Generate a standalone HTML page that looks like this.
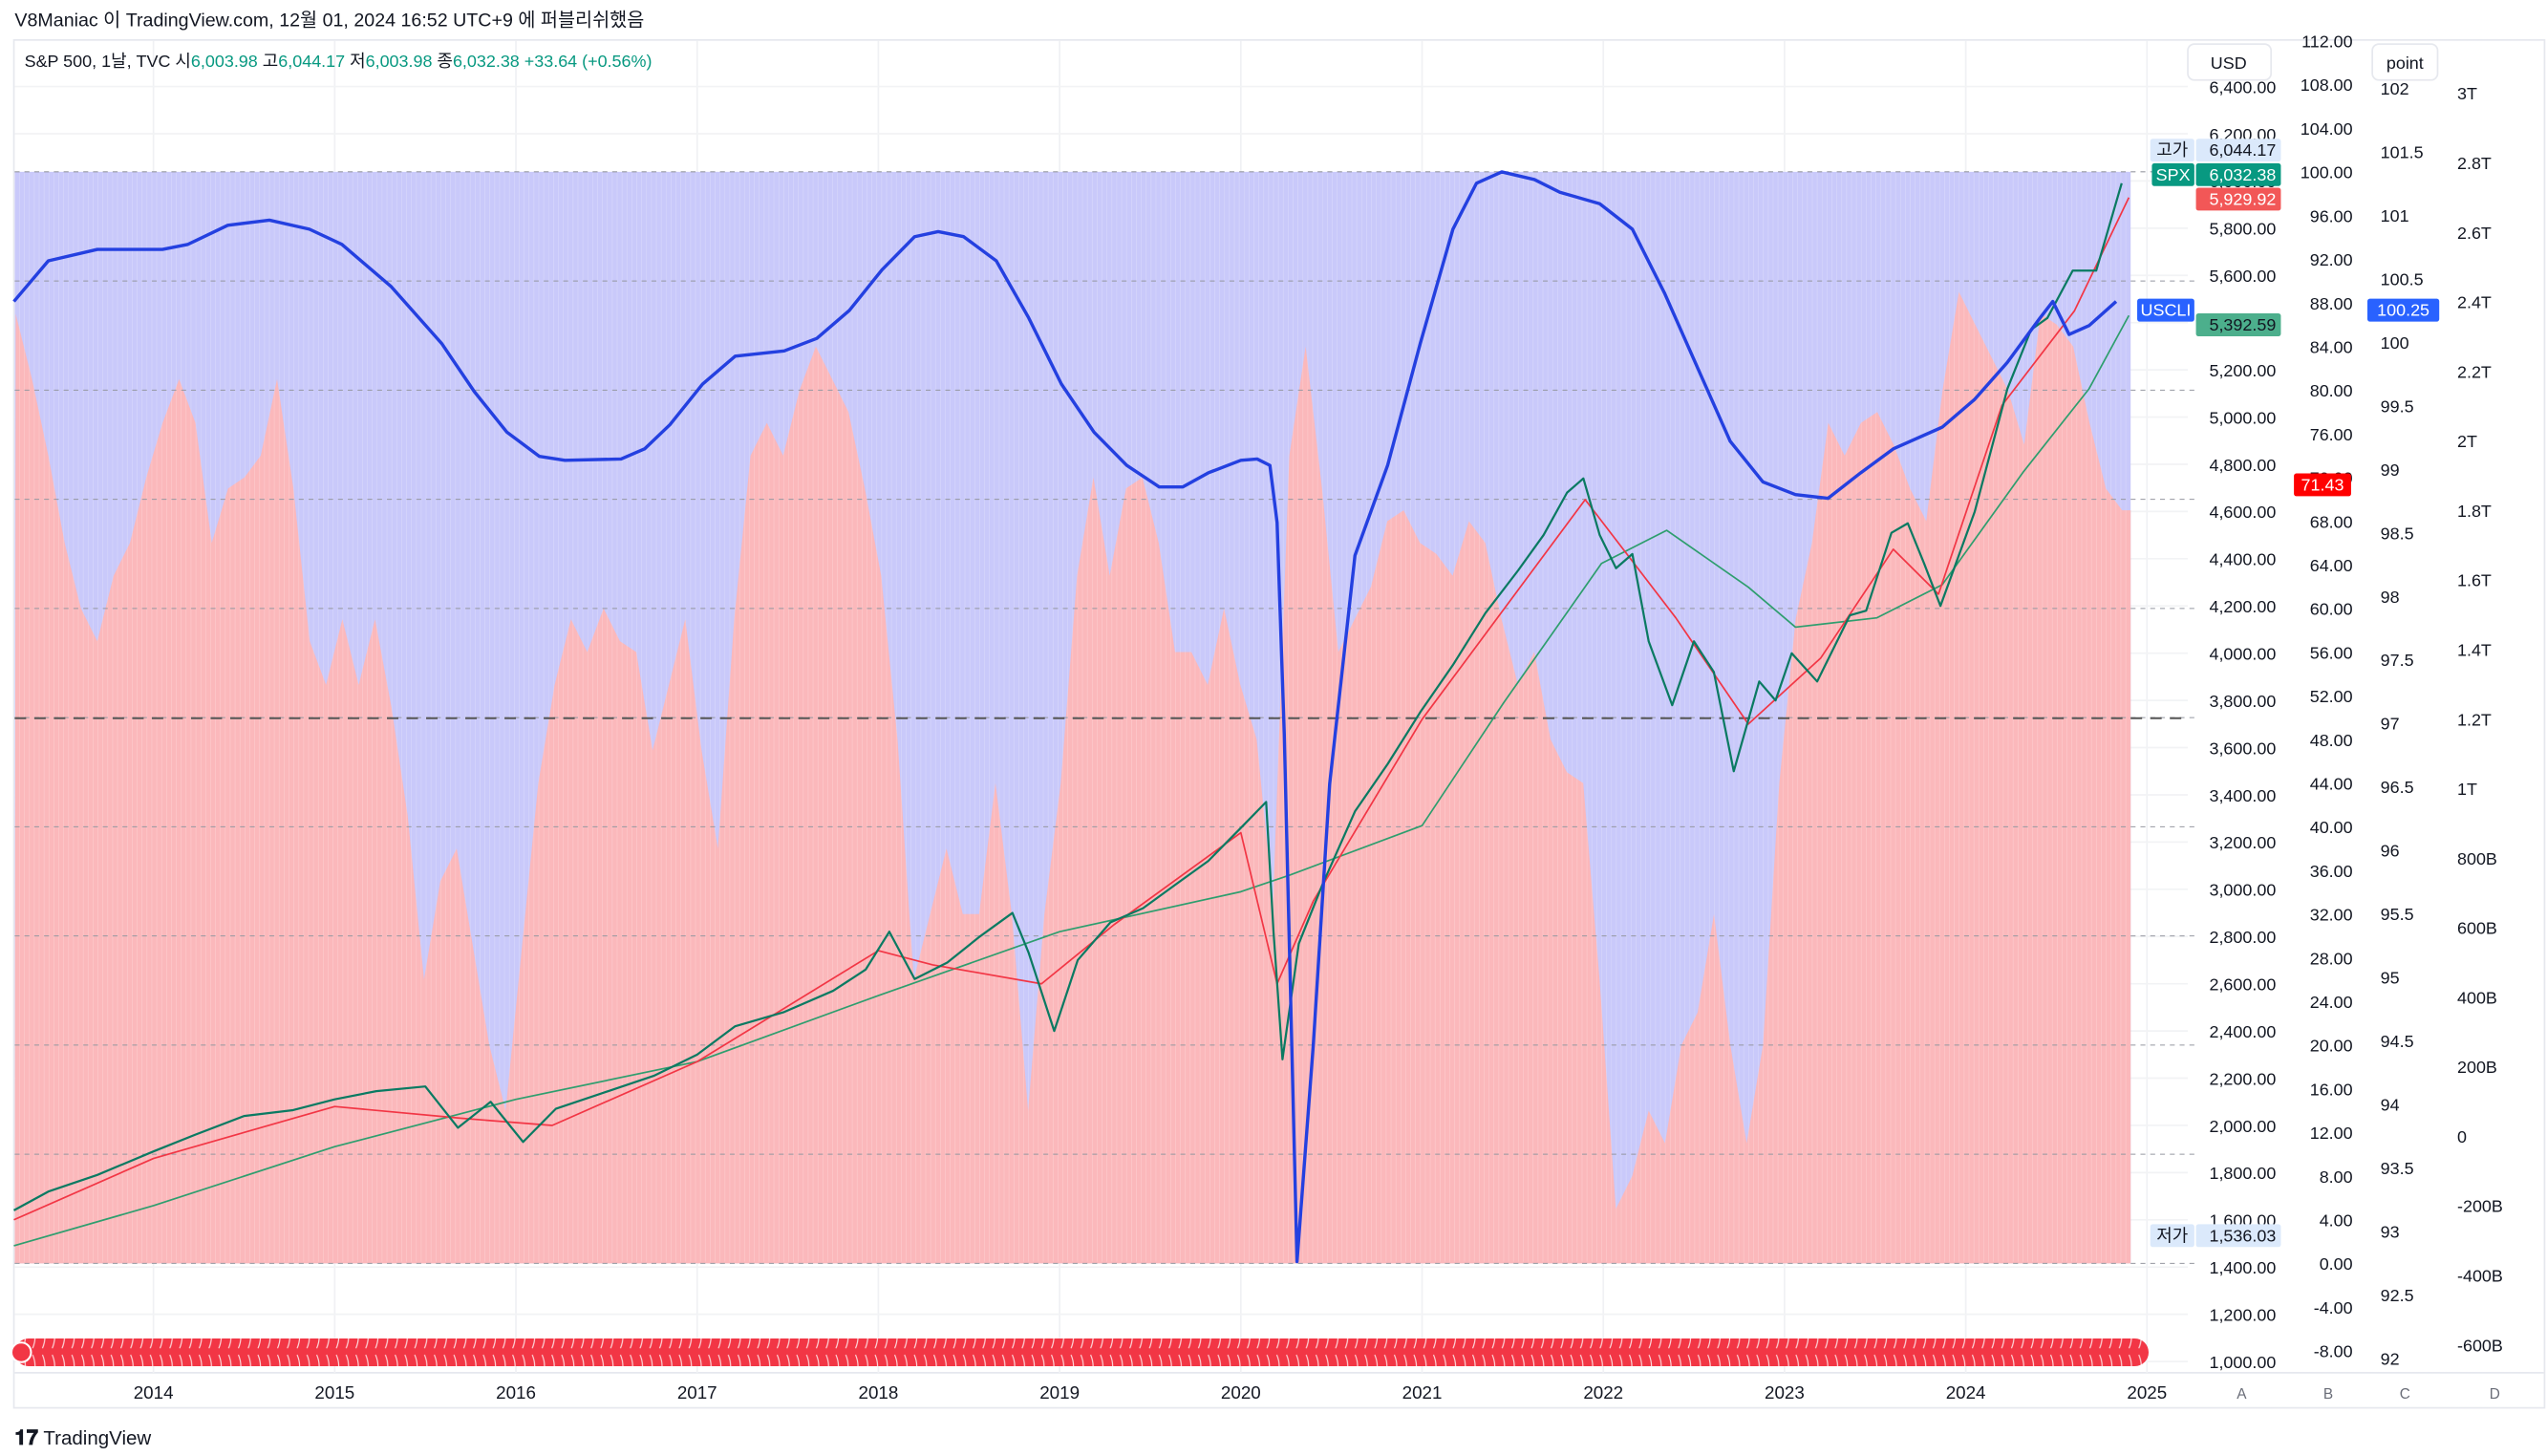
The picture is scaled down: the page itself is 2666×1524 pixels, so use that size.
<!DOCTYPE html>
<html><head><meta charset="utf-8"><style>
html,body{margin:0;padding:0;background:#fff;}
svg{display:block;font-family:"Liberation Sans","Noto Sans CJK KR",sans-serif;}
</style></head><body>
<svg id="chart" width="2666" height="1524" viewBox="0 0 1560 892" preserveAspectRatio="none" xmlns="http://www.w3.org/2000/svg">
<defs>
<pattern id="evt" width="6" height="18" patternUnits="userSpaceOnUse"><path d="M2 2 Q5 9 2 16" stroke="#fff" stroke-width="0.7" fill="none" opacity="0.8"/></pattern>
</defs>
<rect x="0" y="0" width="1560" height="892" fill="#fff"/>
<text x="9" y="16" font-size="11.5" fill="#131722">V8Maniac 이 TradingView.com, 12월 01, 2024 16:52 UTC+9 에 퍼블리쉬했음</text>
<rect x="8.5" y="24.5" width="1550" height="838" fill="none" stroke="#e6e8ee" stroke-width="1"/>
<line x1="9" y1="841" x2="1558" y2="841" stroke="#e6e8ee"/>
<g id="vgrid"></g>
<g id="plot"></g>
<g id="legend">
<text x="15" y="41" font-size="10.5" fill="#131722">S&amp;P 500, 1날, TVC <tspan>시</tspan><tspan fill="#089981">6,003.98</tspan>  고<tspan fill="#089981">6,044.17</tspan>  저<tspan fill="#089981">6,003.98</tspan>  종<tspan fill="#089981">6,032.38</tspan>  <tspan fill="#089981">+33.64 (+0.56%)</tspan></text>
</g>
<rect x="9" y="820" width="1307" height="17" rx="8.5" fill="#f23645"/>
<rect x="14" y="820" width="1300" height="17" fill="url(#evt)"/>
<circle cx="13" cy="828.5" r="6" fill="#f23645" stroke="#fff" stroke-width="1.2"/>
<g id="axes"></g>
<rect x="1340" y="27" width="51" height="22" rx="4" fill="#fff" stroke="#e6e8ee"/>
<text x="1365" y="42" font-size="10.5" text-anchor="middle" fill="#131722">USD</text>
<rect x="1453" y="27" width="40" height="22" rx="4" fill="#fff" stroke="#e6e8ee"/>
<text x="1473" y="42" font-size="10.5" text-anchor="middle" fill="#131722">point</text>
<g id="tags" font-size="10.5"></g>
<text x="9" y="885" font-size="12" fill="#131722"><tspan font-weight="bold" font-size="13">𝟏𝟕</tspan> TradingView</text>
</svg>
<script>
// ---- data ----
const yearTicks=[2014,2015,2016,2017,2018,2019,2020,2021,2022,2023,2024,2025];
const usdTicks=[6400,6200,6000,5800,5600,5400,5200,5000,4800,4600,4400,4200,4000,3800,3600,3400,3200,3000,2800,2600,2400,2200,2000,1800,1600,1400,1200,1000];
const oscTicks=[112,108,104,100,96,92,88,84,80,76,72,68,64,60,56,52,48,44,40,36,32,28,24,20,16,12,8,4,0,-4,-8];
const pointTicks=[102,101.5,101,100.5,100,99.5,99,98.5,98,97.5,97,96.5,96,95.5,95,94.5,94,93.5,93,92.5,92];
const tTicks=[3,2.8,2.6,2.4,2.2,2,1.8,1.6,1.4,1.2,1,0.8,0.6,0.4,0.2,0,-0.2,-0.4,-0.6];
const tLabels=["3T","2.8T","2.6T","2.4T","2.2T","2T","1.8T","1.6T","1.4T","1.2T","1T","800B","600B","400B","200B","0","-200B","-400B","-600B"];
const oscStart=2013.24, oscStep=0.0901;
const oscValues=[87,81,74,66,60,57,63,66,72,77,81,77,66,71,72,74,81,71,57,53,59,53,59,51,41,26,35,38,29,20,14,29,44,53,59,56,60,57,56,47,53,59,47,38,59,74,77,74,80,84,81,78,71,63,48,26,32,38,32,32,44,32,14,32,44,63,72,63,71,72,66,56,56,53,60,53,48,33,74,84,71,56,59,62,68,69,66,65,63,68,66,59,53,56,48,45,44,26,5,8,14,11,20,23,32,20,11,20,44,59,66,77,74,77,78,75,71,68,80,89,86,83,80,75,87,86,84,77,71,69];
const cliDates=[2013.23,2013.42,2013.69,2014.05,2014.19,2014.41,2014.64,2014.86,2015.04,2015.31,2015.59,2015.77,2015.95,2016.13,2016.27,2016.58,2016.71,2016.85,2017.03,2017.21,2017.48,2017.66,2017.84,2018.02,2018.2,2018.33,2018.47,2018.65,2018.83,2019.01,2019.19,2019.37,2019.55,2019.68,2019.82,2020.0,2020.09,2020.16,2020.2,2020.24,2020.31,2020.4,2020.49,2020.63,2020.81,2020.99,2021.17,2021.3,2021.44,2021.62,2021.76,2021.98,2022.16,2022.34,2022.52,2022.7,2022.88,2023.06,2023.24,2023.42,2023.6,2023.87,2024.05,2024.23,2024.41,2024.48,2024.57,2024.68,2024.83];
const cliValues=[100.32,100.64,100.73,100.73,100.77,100.92,100.96,100.89,100.77,100.44,99.99,99.61,99.29,99.1,99.07,99.08,99.16,99.35,99.67,99.89,99.93,100.03,100.25,100.57,100.83,100.87,100.83,100.64,100.19,99.67,99.29,99.03,98.86,98.86,98.97,99.07,99.08,99.03,98.58,96.91,92.76,94.47,96.52,98.32,99.03,99.99,100.89,101.25,101.34,101.28,101.18,101.09,100.89,100.38,99.8,99.22,98.9,98.8,98.77,98.97,99.16,99.33,99.55,99.84,100.19,100.32,100.06,100.13,100.32];
const spxDates=[2013.23,2013.42,2013.69,2014.0,2014.23,2014.5,2014.77,2015.0,2015.23,2015.5,2015.68,2015.86,2016.04,2016.22,2016.49,2016.76,2017.0,2017.21,2017.48,2017.75,2017.93,2018.06,2018.2,2018.38,2018.56,2018.74,2018.83,2018.97,2019.1,2019.28,2019.46,2019.64,2019.82,2020.0,2020.14,2020.18,2020.23,2020.32,2020.45,2020.63,2020.81,2020.99,2021.17,2021.35,2021.53,2021.67,2021.8,2021.89,2021.98,2022.07,2022.16,2022.25,2022.38,2022.5,2022.61,2022.72,2022.86,2022.95,2023.04,2023.18,2023.36,2023.45,2023.59,2023.68,2023.77,2023.86,2024.05,2024.23,2024.36,2024.45,2024.59,2024.72,2024.86];
const spxValues=[1640,1720,1790,1890,1960,2040,2065,2110,2145,2165,1990,2100,1930,2070,2140,2210,2300,2420,2480,2570,2660,2820,2620,2690,2800,2900,2730,2400,2700,2860,2920,3020,3120,3260,3370,2820,2280,2770,3020,3330,3530,3750,3950,4170,4350,4500,4680,4740,4500,4360,4420,4050,3780,4050,3920,3500,3880,3800,4000,3880,4160,4180,4510,4550,4380,4200,4600,5120,5370,5420,5620,5620,5990];
const maDates=[2013.23,2014.0,2015.0,2016.0,2017.0,2018.0,2019.0,2020.0,2020.27,2021.0,2021.45,2021.99,2022.35,2022.8,2023.06,2023.51,2023.87,2024.32,2024.68,2024.9];
const maValues=[1490,1660,1910,2110,2270,2550,2820,2990,3060,3270,3790,4380,4520,4280,4110,4150,4290,4770,5120,5430];
const redDates=[2013.23,2014.0,2015.0,2015.7,2016.2,2017.0,2018.0,2018.3,2018.9,2019.3,2020.0,2020.2,2020.4,2021.0,2021.9,2022.4,2022.8,2023.2,2023.6,2023.85,2024.2,2024.6,2024.9];
const redValues=[1600,1860,2080,2030,2000,2270,2740,2680,2600,2850,3240,2600,2950,3720,4650,4150,3700,3980,4440,4250,5050,5450,5930];
</script>
<script>
const NS="http://www.w3.org/2000/svg";
const L=9,R=1305,PT=106,PB=773;
const xOf=d=>94+(d-2014)*111;
const yUsd=p=>53+(6400-p)/200*28.93;
const yOsc=v=>25+(112-v)*26.75/4;
const yPt=v=>54+(102-v)*77.8;
const yT=v=>57+(3-v)*42.6/0.2;
function mk(tag,attrs,parent){const e=document.createElementNS(NS,tag);for(const k in attrs)e.setAttribute(k,attrs[k]);parent.appendChild(e);return e;}
const plot=document.getElementById('plot'),axes=document.getElementById('axes'),vg=document.getElementById('vgrid'),tags=document.getElementById('tags');
// vertical grid + x labels
yearTicks.forEach(y=>{
 const x=xOf(y);
 const g=mk('line',{x1:x,y1:25,x2:x,y2:841,stroke:'#f0f1f4','stroke-width':1},vg);
 
 
 const t=mk('text',{x:x,y:857,'font-size':11,'text-anchor':'middle',fill:'#131722'},axes);
 t.textContent=y;
 
 
});
["A","B","C","D"].forEach((s,i)=>{const t=mk('text',{x:[1373,1426,1473,1528][i],y:857,'font-size':9,'text-anchor':'middle',fill:'#6a6d78'},axes);t.textContent=s;
 
 });
// horizontal faint grid
usdTicks.forEach(p=>{mk('line',{x1:L,y1:yUsd(p),x2:1340,y2:yUsd(p),stroke:'#f2f3f5'},vg);});
// purple band
const band=mk('rect',{x:L,y:yOsc(100),width:R-L,height:yOsc(0)-yOsc(100),fill:'#c9c9fa'},plot);


// pink oscillator area
let d='M'+L+' '+yOsc(0);
oscValues.forEach((v,i)=>{const x=Math.min(R,Math.max(L,xOf(oscStart+i*oscStep)));d+=' L'+x.toFixed(1)+' '+yOsc(v).toFixed(1);});
d+=' L'+R+' '+yOsc(oscValues[oscValues.length-1]).toFixed(1)+' L'+R+' '+yOsc(0)+' Z';
const osc=mk('path',{d:d,fill:'#fbb8bb'},plot);


// stripes
for(let x=L;x<R;x+=3){mk('line',{x1:x,y1:PT,x2:x,y2:PB,stroke:'#ffffff','stroke-width':0.4,opacity:0.25},plot);}
// band dashed lines
[100,90,80,70,60,50,40,30,20,10,0].forEach(v=>{mk('line',{x1:L,y1:yOsc(v),x2:1345,y2:yOsc(v),stroke:'#9598a1','stroke-width':0.6,'stroke-dasharray':'3 3'},plot);});
const mid=mk('line',{x1:L,y1:440,x2:1340,y2:440,stroke:'#555','stroke-width':1.2,'stroke-dasharray':'7 5'},plot);


function line(dates,vals,yf,col,w,name){
 const p=mk('path',{d:dates.map((t,i)=>(i?'L':'M')+xOf(t).toFixed(1)+' '+yf(vals[i]).toFixed(1)).join(' '),fill:'none',stroke:col,'stroke-width':w,'stroke-linejoin':'round'},plot);
 
 
}
line(maDates,maValues,yUsd,'#2e9e6e',1,'spx-long-ma');
line(redDates,redValues,yUsd,'#f23645',1,'spx-short-ma');
line(spxDates,spxValues,yUsd,'#0a7a62',1.3,'spx-price');
line(cliDates,cliValues,yPt,'#2440e0',2,'uscli-line');
// axes labels
function col(ticks,labels,yf,x,anchor){ticks.forEach((v,i)=>{const t=mk('text',{x:x,y:yf(v)+4,'font-size':10.5,'text-anchor':anchor,fill:'#131722'},axes);t.textContent=labels[i];
 
 });}
col(usdTicks,usdTicks.map(p=>p.toLocaleString('en-US',{minimumFractionDigits:2})),yUsd,1394,'end');
col(oscTicks,oscTicks.map(v=>v.toFixed(2)),yOsc,1441,'end');
col(pointTicks,pointTicks.map(String),yPt,1458,'start');
col(tTicks,tLabels,yT,1505,'start');
// tags
function tag(x,y,w,bg,fg,txt,name,anchor){const r=mk('rect',{x:x,y:y,width:w,height:14,rx:1.5,fill:bg},tags);
 
 
 const t=mk('text',{x:anchor==='end'?x+w-3:x+w/2,y:y+10.5,'text-anchor':anchor||'middle',fill:fg},tags);t.textContent=txt;}
tag(1317,85,27,'#dbe9fb','#131722','고가','high-label');
tag(1345,85,52,'#dbe9fb','#131722','6,044.17','high-value','end');
tag(1318,100,26,'#089981','#fff','SPX','spx-label');
tag(1345,100,52,'#089981','#fff','6,032.38','spx-value','end');
tag(1345,115,52,'#f25757','#fff','5,929.92','red-ma-value','end');
tag(1309,183,35,'#2962ff','#fff','USCLI','uscli-label');
tag(1345,192,52,'#4caf8c','#131722','5,392.59','green-ma-value','end');
tag(1405,290,35,'#ff0000','#fff','71.43','oscillator-value');
tag(1450,183,44,'#2962ff','#fff','100.25','uscli-value');
tag(1317,750,27,'#dbe9fb','#131722','저가','low-label');
tag(1345,750,52,'#dbe9fb','#131722','1,536.03','low-value','end');
</script>
</body></html>
